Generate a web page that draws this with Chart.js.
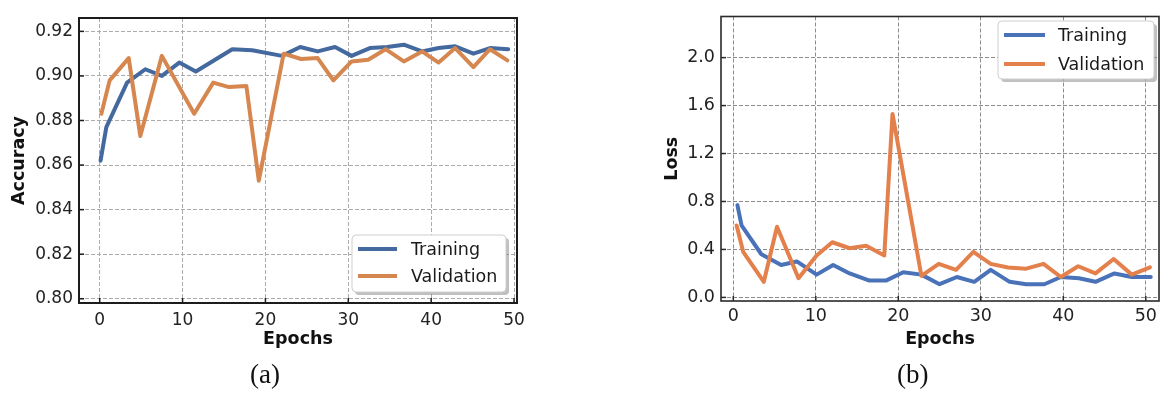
<!DOCTYPE html>
<html>
<head>
<meta charset="utf-8">
<script src="https://cdn.jsdelivr.net/npm/chart.js@4.4.1/dist/chart.umd.min.js"></script>
<style>
  body { margin: 0; background: #fff; }
  #wrap { position: relative; width: 1162px; height: 394px; overflow: hidden; }
  canvas { position: absolute; top: 0; }
  .cap { position: absolute; top: 361px; font-family: "Liberation Serif", "Times New Roman", serif; font-size: 27px; line-height: 26px; color: #111; }
</style>
</head>
<body>
<div id="wrap">
  <canvas id="accChart" width="581" height="394" style="left:0;width:581px;height:394px"></canvas>
  <canvas id="lossChart" width="581" height="394" style="left:581px;width:581px;height:394px"></canvas>
  <div class="cap" style="left:250px">(a)</div>
  <div class="cap" style="left:897px">(b)</div>
</div>
<script>
// tick labels
var epochTicks = [0, 10, 20, 30, 40, 50];
var accTicks = [0.80, 0.82, 0.84, 0.86, 0.88, 0.90, 0.92];
var lossTicks = [0.0, 0.4, 0.8, 1.2, 1.6, 2.0];

// accuracy (a)
var accTrainEpochs = [0.1, 0.8, 3.3, 5.5, 7.5, 9.6, 11.6, 16.0, 18.4, 22.0, 24.2, 26.3, 28.4, 30.4, 32.6, 34.7, 36.7, 38.9, 40.9, 42.9, 45.1, 47.1, 49.3];
var accTrain = [0.862, 0.877, 0.897, 0.903, 0.900, 0.906, 0.902, 0.912, 0.9115, 0.909, 0.913, 0.911, 0.913, 0.909, 0.9125, 0.913, 0.914, 0.911, 0.9125, 0.9133, 0.910, 0.9125, 0.912];
var accValEpochs = [0.2, 1.2, 3.5, 4.9, 7.5, 11.4, 13.7, 15.6, 17.7, 19.2, 22.2, 24.3, 26.3, 28.2, 30.4, 32.4, 34.5, 36.7, 38.9, 40.9, 42.9, 45.1, 47.1, 49.2];
var accVal = [0.883, 0.898, 0.908, 0.873, 0.909, 0.883, 0.897, 0.895, 0.8955, 0.853, 0.910, 0.9076, 0.908, 0.898, 0.9065, 0.9073, 0.912, 0.9065, 0.911, 0.906, 0.9125, 0.904, 0.912, 0.907];

// loss (b)
var lossTrainEpochs = [0.5, 1.0, 3.4, 5.8, 7.7, 10.1, 12.1, 14.1, 16.5, 18.5, 20.6, 22.8, 25.0, 27.1, 29.2, 31.2, 33.5, 35.5, 37.7, 39.7, 41.9, 43.9, 46.2, 48.3, 50.6];
var lossTrain = [0.77, 0.60, 0.36, 0.27, 0.30, 0.19, 0.27, 0.20, 0.14, 0.14, 0.21, 0.19, 0.11, 0.17, 0.13, 0.23, 0.13, 0.11, 0.11, 0.17, 0.16, 0.13, 0.20, 0.17, 0.17];
var lossValEpochs = [0.4, 1.2, 3.7, 5.3, 7.9, 10.1, 12.0, 14.1, 16.1, 18.3, 19.3, 22.8, 24.9, 27.0, 29.1, 31.2, 33.3, 35.5, 37.6, 39.7, 41.8, 43.9, 46.1, 48.3, 50.5];
var lossVal = [0.60, 0.38, 0.13, 0.59, 0.16, 0.35, 0.46, 0.41, 0.43, 0.35, 1.53, 0.18, 0.28, 0.23, 0.38, 0.28, 0.25, 0.24, 0.28, 0.17, 0.26, 0.20, 0.32, 0.19, 0.25];

var seriesNames = ["Training", "Validation"];

function pts(xs, ys) {
  return xs.map(function(x, i) { return { x: x, y: ys[i] }; });
}

// frame box + inward ticks, drawn over the lines like matplotlib spines
var framePlugin = {
  id: "frame",
  afterDatasetsDraw: function(chart, args, opts) {
    var ctx = chart.ctx, a = chart.chartArea;
    var xs = chart.scales.x, ys = chart.scales.y;
    ctx.save();
    ctx.strokeStyle = opts.color;
    ctx.lineWidth = 1.5;
    xs.ticks.forEach(function(t) {
      var px = xs.getPixelForValue(t.value);
      ctx.beginPath(); ctx.moveTo(px, a.bottom); ctx.lineTo(px, a.bottom - 5); ctx.stroke();
    });
    ys.ticks.forEach(function(t) {
      var py = ys.getPixelForValue(t.value);
      ctx.beginPath(); ctx.moveTo(a.left, py); ctx.lineTo(a.left + 5, py); ctx.stroke();
    });
    ctx.lineWidth = opts.width;
    ctx.strokeRect(a.left, a.top, a.right - a.left, a.bottom - a.top);
    ctx.restore();
  }
};

// matplotlib style legend box with shadow
var boxLegend = {
  id: "boxLegend",
  afterDraw: function(chart, args, o) {
    var ctx = chart.ctx;
    ctx.save();
    function rr(x, y, w, h, r) {
      ctx.beginPath();
      ctx.moveTo(x + r, y);
      ctx.arcTo(x + w, y, x + w, y + h, r);
      ctx.arcTo(x + w, y + h, x, y + h, r);
      ctx.arcTo(x, y + h, x, y, r);
      ctx.arcTo(x, y, x + w, y, r);
      ctx.closePath();
    }
    rr(o.x + 3, o.y + 3, o.w, o.h, 4);
    ctx.fillStyle = "rgba(130,130,130,0.5)";
    ctx.fill();
    rr(o.x, o.y, o.w, o.h, 4);
    ctx.fillStyle = "#ffffff";
    ctx.fill();
    ctx.strokeStyle = "#cfcfcf";
    ctx.lineWidth = 1;
    ctx.stroke();
    ctx.font = "17.5px 'DejaVu Sans'";
    ctx.textBaseline = "middle";
    chart.data.datasets.forEach(function(ds, i) {
      var y = o.rows[i];
      ctx.strokeStyle = ds.borderColor;
      ctx.lineWidth = 4;
      ctx.lineCap = "butt";
      ctx.beginPath(); ctx.moveTo(o.lineX0, y); ctx.lineTo(o.lineX1, y); ctx.stroke();
      ctx.fillStyle = "#1a1a1a";
      ctx.fillText(ds.label, o.textX, y + 1);
    });
    ctx.restore();
  }
};

function makeChart(id, cfg) {
  var ctx = document.getElementById(id).getContext("2d");
  return new Chart(ctx, {
    type: "line",
    data: {
      datasets: [
        { label: seriesNames[0], data: cfg.train, borderColor: cfg.blue, borderWidth: 4, order: 1 },
        { label: seriesNames[1], data: cfg.val, borderColor: cfg.orange, borderWidth: 4, order: 0 }
      ]
    },
    options: {
      responsive: false,
      animation: false,
      devicePixelRatio: 1,
      layout: { padding: cfg.padding },
      elements: {
        line: { tension: 0, fill: false, borderJoinStyle: "round", borderCapStyle: "round" },
        point: { radius: 0, hoverRadius: 0 }
      },
      plugins: {
        legend: { display: false },
        tooltip: { enabled: false },
        frame: { color: cfg.frameColor, width: cfg.frameWidth },
        boxLegend: cfg.legend
      },
      scales: {
        x: {
          type: "linear",
          min: cfg.xMin, max: cfg.xMax,
          afterBuildTicks: function(s) { s.ticks = epochTicks.map(function(v) { return { value: v }; }); },
          afterFit: function(s) { s.height = cfg.xAxisHeight; },
          grid: { color: cfg.gridColor, lineWidth: 1, drawTicks: false },
          border: { display: false, dash: [4, 2] },
          ticks: { padding: cfg.xTickPad, color: "#222", font: { family: "DejaVu Sans", size: cfg.tickSize }, maxRotation: 0,
                   callback: function(v) { return String(v); } },
          title: { display: true, text: "Epochs", color: "#111", padding: { top: 0, bottom: cfg.xTitlePad },
                   font: { family: "DejaVu Sans", size: 17.5, weight: "bold" } }
        },
        y: {
          type: "linear",
          min: cfg.yMin, max: cfg.yMax,
          afterBuildTicks: function(s) { s.ticks = cfg.yTicks.map(function(v) { return { value: v }; }); },
          afterFit: function(s) { s.width = cfg.yAxisWidth; },
          grid: { color: cfg.gridColor, lineWidth: 1, drawTicks: false },
          border: { display: false, dash: [4, 2] },
          ticks: { padding: 6, color: "#222", font: { family: "DejaVu Sans", size: cfg.tickSize },
                   callback: function(v) { return v.toFixed(cfg.decimals); } },
          title: { display: true, text: cfg.yTitle, color: "#111", padding: { top: cfg.yTitlePad, bottom: 0 },
                   font: { family: "DejaVu Sans", size: 17.5, weight: "bold" } }
        }
      }
    },
    plugins: [framePlugin, boxLegend]
  });
}

makeChart("accChart", {
  train: pts(accTrainEpochs, accTrain),
  val: pts(accValEpochs, accVal),
  blue: "#44699f", orange: "#d6874f",
  padding: { left: 0, top: 18, right: 64, bottom: 0 },
  xMin: -2.5, xMax: 50.36, yMin: 0.7981, yMax: 0.926,
  yTicks: accTicks, decimals: 2, yTitle: "Accuracy",
  xAxisHeight: 91, yAxisWidth: 79, xTickPad: 7, xTitlePad: 44, yTitlePad: 8.5,
  tickSize: 17, gridColor: "#ababab", frameColor: "#1c1c1c", frameWidth: 2,
  legend: { x: 352, y: 235, w: 154, h: 57, rows: [249, 276], lineX0: 358, lineX1: 397, textX: 411 }
});

makeChart("lossChart", {
  train: pts(lossTrainEpochs, lossTrain),
  val: pts(lossValEpochs, lossVal),
  blue: "#4a72b8", orange: "#e3804b",
  padding: { left: 80, top: 11, right: 2, bottom: 0 },
  xMin: -1.49, xMax: 51.6, yMin: -0.03, yMax: 2.343,
  yTicks: lossTicks, decimals: 1, yTitle: "Loss",
  xAxisHeight: 93, yAxisWidth: 60, xTickPad: 5, xTitlePad: 44, yTitlePad: 1.3,
  tickSize: 17.5, gridColor: "#8c8c8c", frameColor: "#2a2a2a", frameWidth: 1.6,
  legend: { x: 417, y: 21, w: 156, h: 58, rows: [35, 64], lineX0: 423, lineX1: 464, textX: 477 }
});
</script>
</body>
</html>
